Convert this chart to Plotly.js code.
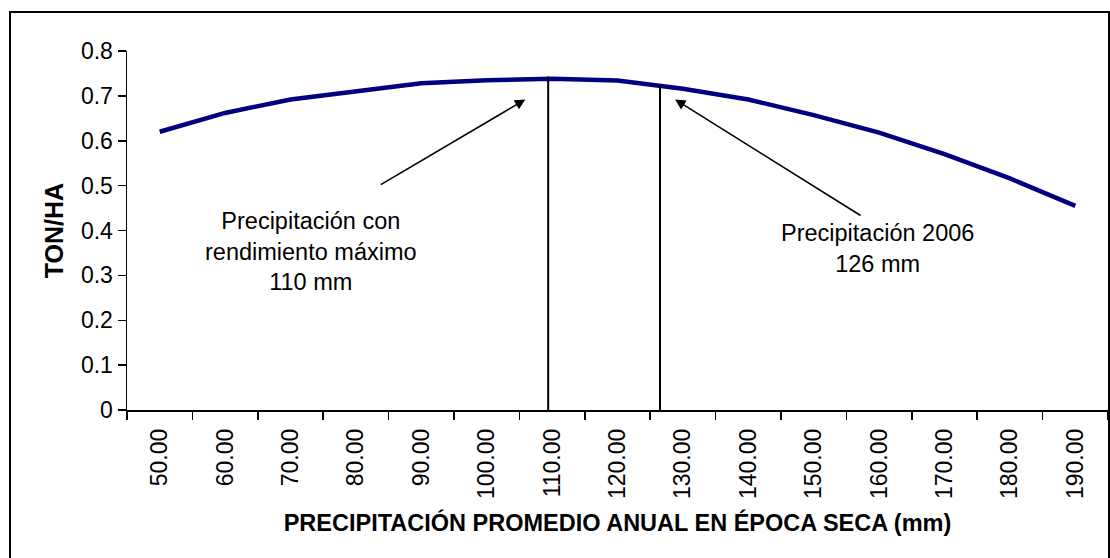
<!DOCTYPE html>
<html>
<head>
<meta charset="utf-8">
<script src="https://cdn.plot.ly/plotly-3.0.1.min.js"></script>
<style>
  html, body { margin: 0; padding: 0; background: #ffffff; }
  #chart { width: 1110px; height: 558px; }
</style>
</head>
<body>
<div id="chart"></div>
<script>
// Precipitation categories (mm) and yield (TON/HA)
const precipitation = [50, 60, 70, 80, 90, 100, 110, 120, 130, 140, 150, 160, 170, 180, 190];
const tickLabels = ["50.00", "60.00", "70.00", "80.00", "90.00", "100.00", "110.00", "120.00",
                    "130.00", "140.00", "150.00", "160.00", "170.00", "180.00", "190.00"];
const yieldTonHa = [0.620, 0.662, 0.692, 0.711, 0.728, 0.735, 0.738, 0.734,
                    0.716, 0.692, 0.657, 0.618, 0.570, 0.516, 0.455];

// Marker lines: precipitation with max yield, and 2006 precipitation
const markerX = [109.4, 126.5];
const markerTop = [0.743, 0.724];

const FONT = '"Liberation Sans", Arial, sans-serif';

const traces = [
  {
    x: precipitation, y: yieldTonHa, type: 'scatter', mode: 'lines',
    line: { color: '#000080', width: 4.5 }, hoverinfo: 'x+y', showlegend: false
  }
];
markerX.forEach((mx, i) => {
  traces.push({
    x: [mx, mx], y: [0, markerTop[i]], type: 'scatter', mode: 'lines',
    line: { color: '#000000', width: 2 }, showlegend: false, hoverinfo: 'skip'
  });
});

const plotL = 127, plotR = 1108, plotT = 51, plotB = 410;
const W = 1110, H = 558;
const pw = plotR - plotL, ph = plotB - plotT;

const layout = {
  width: W, height: H,
  margin: { l: plotL, r: W - plotR, t: plotT, b: H - plotB },
  paper_bgcolor: '#ffffff', plot_bgcolor: '#ffffff',
  font: { family: FONT, color: '#000000' },
  showlegend: false,
  xaxis: {
    type: 'linear', range: [45, 195],
    tickmode: 'array', tickvals: precipitation, ticktext: tickLabels,
    ticks: '', tickangle: -90,
    tickfont: { family: FONT, size: 23, color: '#000' },
    ticklabelstandoff: 8,
    minor: { ticks: 'outside', tickmode: 'linear', tick0: 45, dtick: 10, ticklen: 8, tickwidth: 1.5, tickcolor: '#000', showgrid: false },
    showline: true, linecolor: '#000', linewidth: 1.5,
    showgrid: false, zeroline: false,
    title: { text: 'PRECIPITACIÓN PROMEDIO ANUAL EN ÉPOCA SECA (mm)', font: { family: FONT, size: 23.5, color: '#000', weight: 'bold' }, standoff: 16 }
  },
  yaxis: {
    range: [0, 0.8], tickmode: 'array',
    tickvals: [0, 0.1, 0.2, 0.3, 0.4, 0.5, 0.6, 0.7, 0.8],
    ticktext: ['0', '0.1', '0.2', '0.3', '0.4', '0.5', '0.6', '0.7', '0.8'],
    ticks: 'outside', ticklen: 8, tickwidth: 1.5, tickcolor: '#000',
    tickfont: { family: FONT, size: 23, color: '#000' },
    ticklabelstandoff: 0,
    showline: true, linecolor: '#000', linewidth: 1.5,
    showgrid: false, zeroline: false,
    title: { text: 'TON/HA', font: { family: FONT, size: 25, color: '#000', weight: 'bold' }, standoff: 10 }
  },
  shapes: [
    {
      type: 'rect', xref: 'paper', yref: 'paper',
      x0: (10 - plotL) / pw, x1: (1109 - plotL) / pw,
      y0: (plotB - 600) / ph, y1: (plotB - 12) / ph,
      line: { color: '#000', width: 2 }, fillcolor: 'rgba(0,0,0,0)', layer: 'below'
    }
  ],
  annotations: [
    {
      x: 105.9, y: 0.692, xref: 'x', yref: 'y', text: '', showarrow: true,
      ax: -146, ay: 86, arrowhead: 2, arrowsize: 1.3, arrowwidth: 1.6, arrowcolor: '#000'
    },
    {
      x: 128.8, y: 0.692, xref: 'x', yref: 'y', text: '', showarrow: true,
      ax: 187, ay: 117, arrowhead: 2, arrowsize: 1.3, arrowwidth: 1.6, arrowcolor: '#000'
    },
    {
      x: 73.2, y: 0.354, xref: 'x', yref: 'y', showarrow: false,
      text: 'Precipitación con<br>rendimiento máximo<br>110 mm', align: 'center',
      font: { family: FONT, size: 23.5, color: '#000' }
    },
    {
      x: 159.7, y: 0.361, xref: 'x', yref: 'y', showarrow: false,
      text: 'Precipitación 2006<br>126 mm', align: 'center',
      font: { family: FONT, size: 23.5, color: '#000' }
    }
  ]
};

Plotly.newPlot('chart', traces, layout, { displayModeBar: false, staticPlot: true });
</script>
</body>
</html>
